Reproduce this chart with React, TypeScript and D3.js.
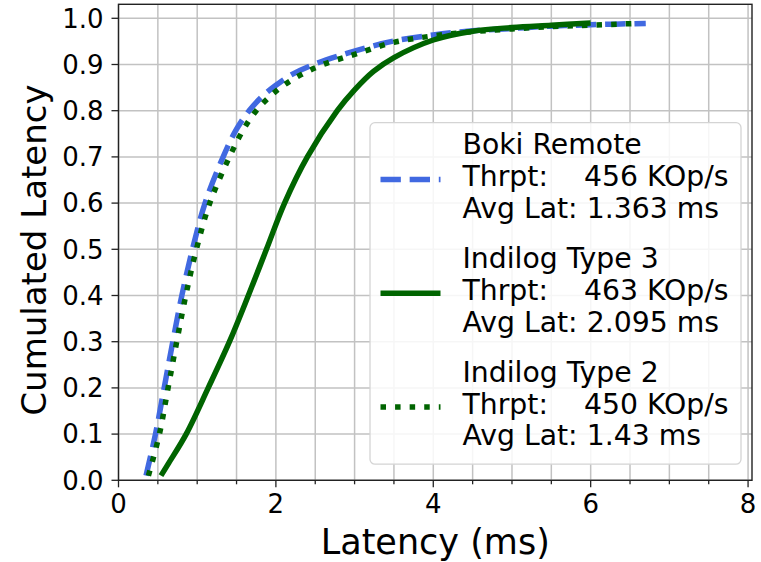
import * as d3 from 'd3';

// latency (ms) / cumulative fraction
const bokiX = [0.35, 0.47, 0.58, 0.69, 0.805, 0.94, 1.10, 1.33, 1.50, 1.66, 1.82, 2.0, 2.2, 2.48, 2.90, 3.32, 3.5, 4.0, 4.5, 5.0, 5.5, 6.0, 6.7];
const bokiY = [0.01, 0.1, 0.2, 0.3, 0.4, 0.5, 0.6, 0.7, 0.76, 0.8, 0.83, 0.855, 0.878, 0.9, 0.924, 0.944, 0.951, 0.964, 0.973, 0.978, 0.983, 0.986, 0.989];

const type3X = [0.54, 0.63, 0.86, 1.14, 1.41, 1.65, 1.88, 2.11, 2.40, 2.78, 3.0, 3.24, 3.5, 4.0, 4.5, 5.0, 5.5, 6.0];
const type3Y = [0.01, 0.035, 0.1, 0.2, 0.3, 0.4, 0.5, 0.6, 0.7, 0.8, 0.845, 0.885, 0.915, 0.953, 0.972, 0.98, 0.985, 0.99];

const type2X = [0.38, 0.52, 0.63, 0.74, 0.855, 0.99, 1.16, 1.41, 1.59, 1.75, 1.92, 2.1, 2.32, 2.6, 3.0, 3.5, 4.0, 4.5, 5.0, 5.5, 6.0, 6.6];
const type2Y = [0.01, 0.1, 0.2, 0.3, 0.4, 0.5, 0.6, 0.7, 0.76, 0.8, 0.83, 0.855, 0.878, 0.9, 0.922, 0.948, 0.962, 0.971, 0.977, 0.982, 0.985, 0.989];

const xTicks = [0, 2, 4, 6, 8];
const xMinorTicks = [0.5, 1, 1.5, 2.5, 3, 3.5, 4.5, 5, 5.5, 6.5, 7, 7.5];
const yTicks = [0, 0.1, 0.2, 0.3, 0.4, 0.5, 0.6, 0.7, 0.8, 0.9, 1.0];

const legendNames = ['Boki Remote', 'Indilog Type 3', 'Indilog Type 2'];
const legendThrpt = ['456 KOp/s', '463 KOp/s', '450 KOp/s'];
const legendLat = ['1.363 ms', '2.095 ms', '1.43 ms'];

const BLUE = '#4169e1';
const GREEN = '#006400';
const LW = 5.5;
const FONT = 'DejaVu Sans, sans-serif';

const seriesStyles = [
  { color: BLUE, dash: `${LW * 3.7} ${LW * 1.6}` },
  { color: GREEN, dash: undefined },
  { color: GREEN, dash: `${LW} ${LW * 1.65}` },
];

export default function App() {
  const width = 761;
  const height = 562;
  const left = 118.5;
  const right = 752;
  const top = 4.3;
  const bottom = 480.3;

  const x = d3.scaleLinear().domain([0, 8.05]).range([left, right]);
  const y = d3.scaleLinear().domain([0, 1.0303]).range([bottom, top]);

  const line = d3
    .line<[number, number]>()
    .x((d) => x(d[0]))
    .y((d) => y(d[1]))
    .curve(d3.curveCatmullRom.alpha(0.5));

  const series: [number, number][][] = [
    bokiX.map((v, i) => [v, bokiY[i]]),
    type3X.map((v, i) => [v, type3Y[i]]),
    type2X.map((v, i) => [v, type2Y[i]]),
  ];

  const gridX = [...xTicks, ...xMinorTicks];

  // legend geometry
  const lgX = 370;
  const lgY = 122.7;
  const lgW = 371;
  const lgH = 341.5;
  const groupGap = 113.7;
  const lineGap = 31.8;

  return (
    <svg width={width} height={height} style={{ position: 'absolute', left: 0, top: 0 }}>
      <rect width={width} height={height} fill="#fff" />

      {/* grid */}
      <g stroke="#c2c2c2" strokeWidth={1.5}>
        {gridX.map((t) => (
          <line key={'gx' + t} x1={x(t)} x2={x(t)} y1={top} y2={bottom} />
        ))}
        {yTicks.map((t) => (
          <line key={'gy' + t} x1={left} x2={right} y1={y(t)} y2={y(t)} />
        ))}
      </g>

      {/* curves */}
      {series.map((s, i) => (
        <path
          key={i}
          d={line(s) ?? ''}
          fill="none"
          stroke={seriesStyles[i].color}
          strokeWidth={LW}
          strokeDasharray={seriesStyles[i].dash}
        />
      ))}

      {/* frame */}
      <rect x={left} y={top} width={right - left} height={bottom - top} fill="none" stroke="#222" strokeWidth={1.4} />

      {/* ticks */}
      <g stroke="#222" strokeWidth={1.3}>
        {xTicks.map((t) => (
          <line key={'tx' + t} x1={x(t)} x2={x(t)} y1={bottom} y2={bottom + 7} />
        ))}
        {xMinorTicks.map((t) => (
          <line key={'mx' + t} x1={x(t)} x2={x(t)} y1={bottom} y2={bottom + 4} />
        ))}
        {yTicks.map((t) => (
          <line key={'ty' + t} x1={left - 7} x2={left} y1={y(t)} y2={y(t)} />
        ))}
      </g>

      <g fontFamily={FONT} fontSize={26} fill="#000">
        {xTicks.map((t) => (
          <text key={'lx' + t} x={x(t)} y={513} textAnchor="middle">
            {t}
          </text>
        ))}
        {yTicks.map((t) => (
          <text key={'ly' + t} x={left - 15} y={y(t)} dy="0.36em" textAnchor="end">
            {t.toFixed(1)}
          </text>
        ))}
      </g>

      {/* axis labels */}
      <text x={(left + right) / 2} y={554} textAnchor="middle" fontFamily={FONT} fontSize={35}>
        Latency (ms)
      </text>
      <text
        transform={`translate(46,250) rotate(-90)`}
        textAnchor="middle"
        fontFamily={FONT}
        fontSize={34}
      >
        Cumulated Latency
      </text>

      {/* legend */}
      <rect x={lgX} y={lgY} width={lgW} height={lgH} rx={5} fill="#fff" fillOpacity={0.85} stroke="#d4d4d4" strokeWidth={1.3} />
      {legendNames.map((name, i) => {
        const base = lgY + 31.6 + i * groupGap;
        return (
          <g key={name} fontFamily={FONT} fontSize={28.3} style={{ whiteSpace: 'pre' }}>
            <line
              x1={380.5}
              x2={440.5}
              y1={base + lineGap - 6.5}
              y2={base + lineGap - 6.5}
              stroke={seriesStyles[i].color}
              strokeWidth={LW}
              strokeDasharray={seriesStyles[i].dash}
            />
            <text x={462.5} y={base}>
              {name}
            </text>
            <text x={462.5} y={base + lineGap} xmlSpace="preserve">
              {'Thrpt:    ' + legendThrpt[i]}
            </text>
            <text x={462.5} y={base + 2 * lineGap}>
              {'Avg Lat: ' + legendLat[i]}
            </text>
          </g>
        );
      })}
    </svg>
  );
}
